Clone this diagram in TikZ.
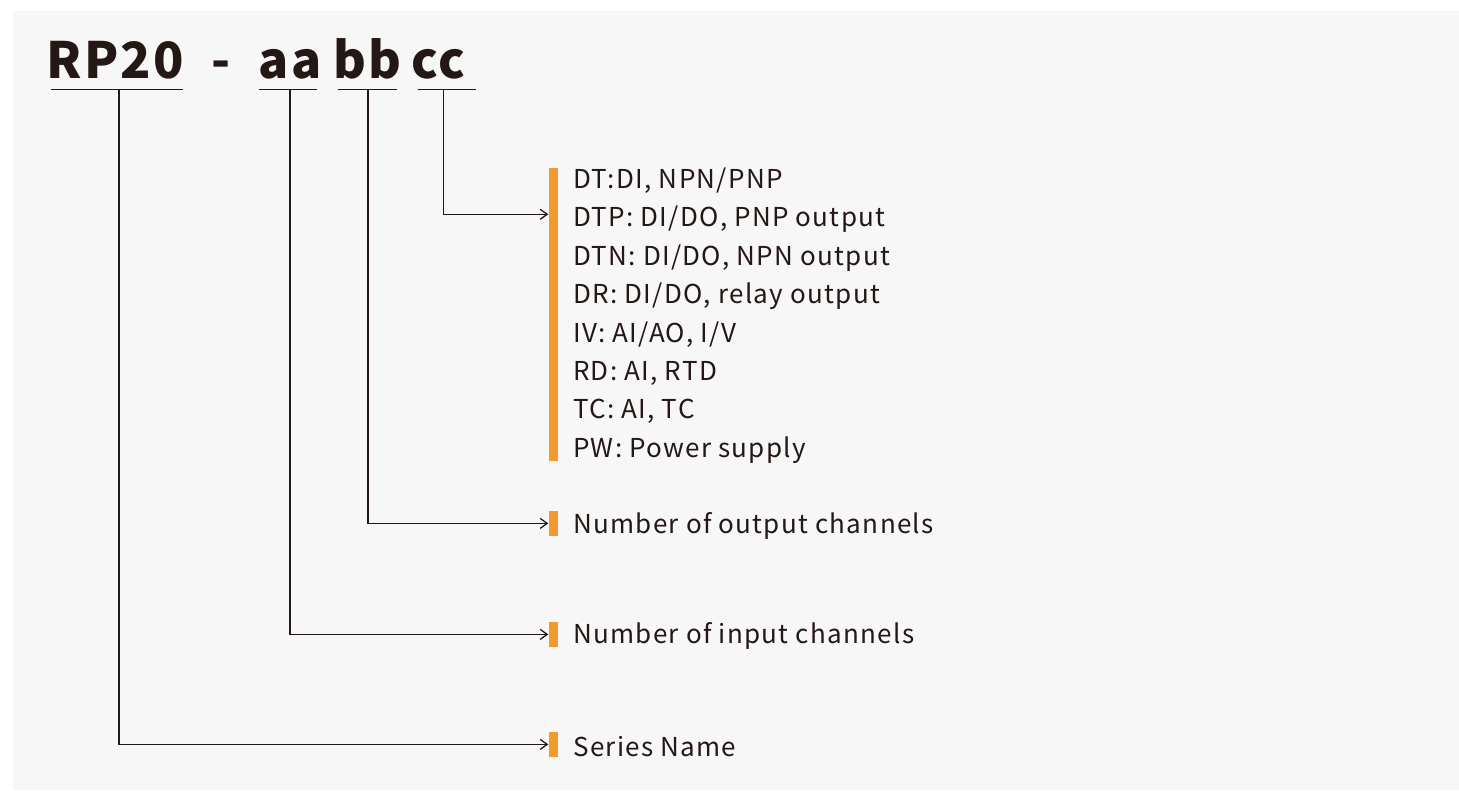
\documentclass[tikz,border=0pt]{standalone}
\usepackage{fontspec}
\setmainfont{Noto Sans CJK SC}[LetterSpace=5]
\usetikzlibrary{positioning,arrows.meta}
\definecolor{ink}{HTML}{231815}
\definecolor{panel}{HTML}{F7F7F7}
\definecolor{tab}{HTML}{F29A2E}
\tikzset{
  code/.style={font=\fontsize{50}{50}\selectfont\bfseries, text=ink, inner sep=0pt, anchor=base west},
  item/.style={font=\fontsize{26}{26}\selectfont, text=ink, inner sep=0pt, anchor=base west},
  tabbar/.style={fill=tab, minimum width=9.4pt, inner sep=0pt, anchor=north west},
  uline/.style={draw=ink, line width=1.3pt},
  conn/.style={draw=ink, line width=1.3pt, -{Straight Barb[length=7pt,width=10pt]}},
}
\begin{document}
\begin{tikzpicture}[x=1pt,y=-1pt]
\useasboundingbox (0,0) rectangle (1459,791);
\fill[white] (0,0) rectangle (1459,791);
\fill[panel] (12.5,11) rectangle (1459,790);
% model code
\node[code] (series) at (46,79) {RP20};
\node[code] (dash) at (211,79) {-};
\node[code] (aa) at (258,79) {aa};
\node[code] (bb) at (333,79) {bb};
\node[code] (cc) at (411,79) {cc};
\draw[uline] (51,89.3) -- (182.7,89.3);
\draw[uline] (259.3,89.3) -- (317.3,89.3);
\draw[uline] (338.3,89.3) -- (396.7,89.3);
\draw[uline] (417.7,89.3) -- (476,89.3);
\coordinate (useries) at (119,89.3);
\coordinate (uaa) at (290,89.3);
\coordinate (ubb) at (368,89.3);
\coordinate (ucc) at (443.5,89.3);
% orange tabs
\node[tabbar, minimum height=292.4pt] (typebar) at (548.3,168.3) {};
\node[tabbar, minimum height=25pt] (outbar) at (548.3,510.7) {};
\node[tabbar, minimum height=25pt] (inbar) at (548.3,621.7) {};
\node[tabbar, minimum height=25pt] (serbar) at (548.3,731.7) {};
\coordinate (typein) at (548.3,214.3);
% labels
\foreach \txt [count=\i] in {{DT:DI, NPN/PNP},{DTP: DI/DO, PNP output},{DTN: DI/DO, NPN output},
  {DR: DI/DO, relay output},{IV: AI/AO, I/V},{RD: AI, RTD},{TC: AI, TC},{PW: Power supply}}
  \node[item] (t\i) at (573,{188.3+38.43*(\i-1)}) {\txt};
\node[item] (outlbl) at (573,533) {Number of output channels};
\node[item] (inlbl) at (573,643) {Number of input channels};
\node[item] (serlbl) at (573,756) {Series Name};
% connectors
\draw[conn] (ucc) |- (typein);
\draw[conn] (ubb) |- (outbar.west);
\draw[conn] (uaa) |- (inbar.west);
\draw[conn] (useries) |- (serbar.west);
\end{tikzpicture}
\end{document}
